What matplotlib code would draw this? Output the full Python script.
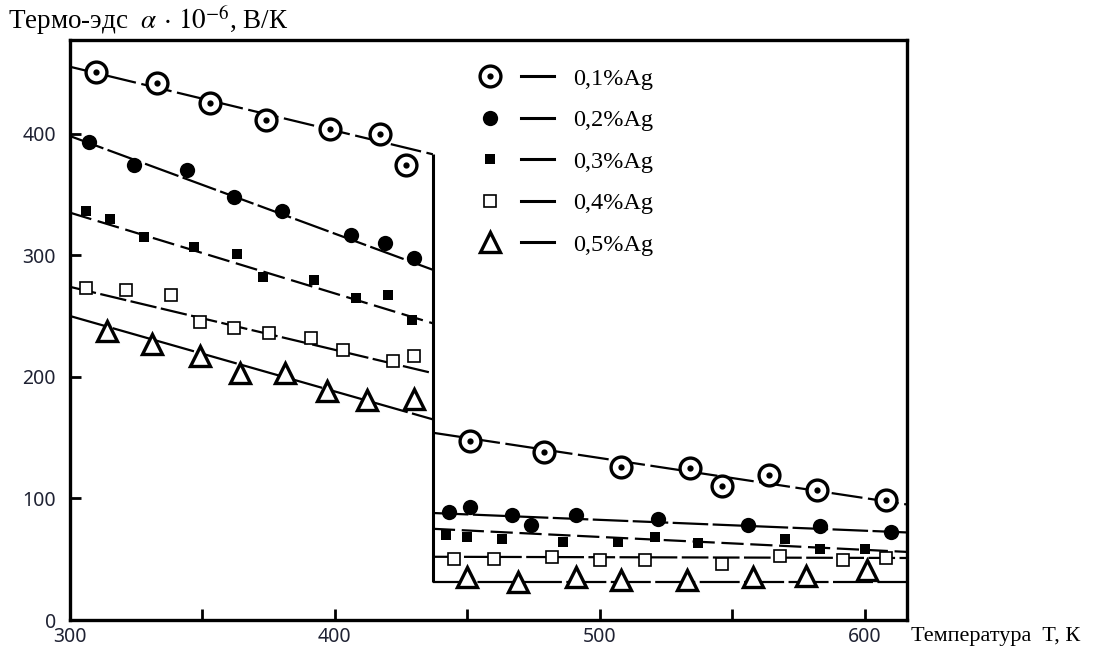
import matplotlib as mpl
import matplotlib.pyplot as plt
from matplotlib.lines import Line2D
from matplotlib.path import Path
from matplotlib.legend_handler import HandlerTuple

############################
#% DATA
############################
labels = ['0,1%Ag', '0,2%Ag', '0,3%Ag', '0,4%Ag', '0,5%Ag']

# measured points below the step (T, K / alpha*10^-6, V/K)
t_low = [
    [310, 333, 353, 374, 398, 417, 427],
    [307, 324, 344, 362, 380, 406, 419, 430],
    [306, 315, 328, 347, 363, 373, 392, 408, 420, 429],
    [306, 321, 338, 349, 362, 375, 391, 403, 422, 430],
    [314, 331, 349, 364, 381, 397, 412, 430],
]
a_low = [
    [451, 442, 425, 411, 404, 400, 374],
    [393, 374, 370, 348, 336, 317, 310, 298],
    [336, 330, 315, 307, 301, 282, 280, 265, 267, 247],
    [273, 271, 267, 245, 240, 236, 232, 222, 213, 217],
    [238, 227, 217, 203, 203, 188, 181, 182],
]

# measured points above the step
t_high = [
    [451, 479, 508, 534, 546, 564, 582, 608],
    [443, 451, 467, 474, 491, 522, 556, 583, 610],
    [442, 450, 463, 486, 507, 521, 537, 570, 583, 600],
    [445, 460, 482, 500, 517, 546, 568, 592, 608],
    [450, 469, 491, 508, 533, 558, 578, 601],
]
a_high = [
    [147, 138, 126, 125, 110, 119, 107, 99],
    [89, 93, 86, 78, 86, 83, 78, 77, 72],
    [70, 68, 67, 64, 64, 68, 63, 67, 58, 58],
    [50, 50, 52, 49, 49, 46, 53, 49, 51],
    [35, 31, 35, 33, 33, 35, 36, 41],
]

# fitted straight lines: value at start / end of each branch
t_min, t_step, t_max = 300, 437, 616
fit_low = [(455, 383), (398, 288), (335, 244), (274, 203), (250, 165)]
fit_high = [(154, 95), (88, 72), (75, 56), (52, 51), (31, 31)]
step_range = (31, 383)

############################
#% STYLE
############################
plt.rcParams['font.family'] = ['Liberation Serif', 'DejaVu Serif']
plt.rcParams['mathtext.fontset'] = 'stix'

# circle with a dot in the middle
circ_dot = Path.make_compound_path(Path.unit_circle(),
                                   Path.circle((0, 0), 0.14))

markers = [
    dict(marker=circ_dot, ms=15, mfc='white', mec='black', mew=2.4),
    dict(marker='o', ms=11, mfc='black', mec='black', mew=0),
    dict(marker='s', ms=7.5, mfc='black', mec='black', mew=0),
    dict(marker='s', ms=9, mfc='white', mec='black', mew=1.2),
    dict(marker='^', ms=14, mfc='white', mec='black', mew=2.4),
]
lstyles = [(0, (14, 2.5)), (0, (16, 2)), (0, (10, 3)),
           (0, (12, 2)), (0, (18, 2))]
lw = 1.6

fig = plt.figure(figsize=(10.93, 6.52), dpi=100)
ax = fig.add_axes((70 / 1093, 32 / 652, 837 / 1093, 580 / 652))

for i in range(5):
    ax.plot([t_min, t_step], fit_low[i], color='black', lw=lw,
            linestyle=lstyles[i], zorder=2)
    ax.plot([t_step, t_max], fit_high[i], color='black', lw=lw,
            linestyle=lstyles[i], zorder=2)
    ax.plot(t_low[i], a_low[i], linestyle='none', zorder=3, **markers[i])
    ax.plot(t_high[i], a_high[i], linestyle='none', zorder=3, **markers[i])

ax.vlines(t_step, *step_range, color='black', lw=2.2, zorder=2)

ax.set_xlim(t_min, t_max)
ax.set_ylim(0, 477)
ax.set_xticks([300, 400, 500, 600])
ax.set_xticks([350, 450, 550], minor=True)
ax.set_yticks([0, 100, 200, 300, 400])
ax.tick_params(which='both', direction='in', length=8, width=2,
               labelsize=14, labelcolor='#1f2233')
ax.tick_params(axis='x', pad=5)
ax.tick_params(axis='y', pad=10)
for lab in ax.get_xticklabels() + ax.get_yticklabels():
    lab.set_family(['Noto Sans', 'DejaVu Sans'])
for s in ax.spines.values():
    s.set_linewidth(2.4)

# legend: marker, then a short line, then the label
handles = []
for i in range(5):
    m = Line2D([], [], linestyle='none', **markers[i])
    ln = Line2D([], [], color='black', lw=2.2)
    handles.append((m, ln))
ax.legend(handles, labels, loc='upper left', bbox_to_anchor=(0.456, 0.99),
          frameon=False, fontsize=17.5, handlelength=3.3, handletextpad=0.8,
          labelspacing=0.8,
          handler_map={tuple: HandlerTuple(ndivide=None, pad=0.6)})

fig.text(8 / 1093, 1 - 20 / 652,
         'Термо-эдс  $\\alpha \\,\\cdot\\, 10^{-6}$, В/К',
         fontsize=19.5, ha='left', va='center')
fig.text(911 / 1093, 1 - 637 / 652, 'Температура  T, К',
         fontsize=16, ha='left', va='center')

fig.savefig('out.png', dpi=100)
